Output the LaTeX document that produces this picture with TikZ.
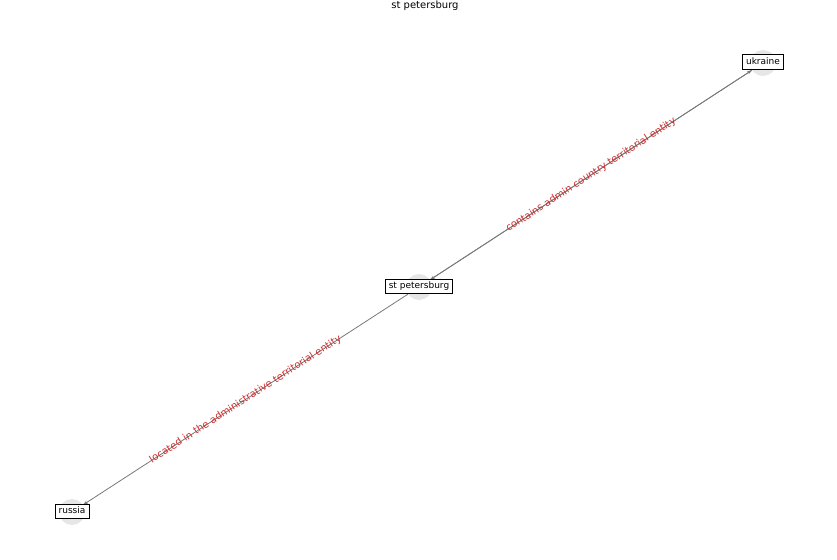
\documentclass[tikz,border=0pt]{standalone}
\usepackage{fontspec}
\setmainfont{DejaVu Sans}
\usetikzlibrary{arrows.meta}
\definecolor{edgegray}{RGB}{120,120,120}
\definecolor{labelred}{RGB}{205,45,45}
\definecolor{halo}{RGB}{230,230,230}
\tikzset{
  halonode/.style={circle, fill=halo, minimum size=26pt, inner sep=0pt},
  boxnode/.style={draw=black, fill=white, line width=0.6pt, font=\fontsize{9}{11}\selectfont, inner xsep=3.5pt, inner ysep=3pt, text height=6.6pt, text depth=1.8pt},
  conn/.style={draw=edgegray, line width=0.8pt, -{Stealth[length=5pt,width=3.5pt]}},
  elabel/.style={text=labelred, font=\fontsize{10}{12}\selectfont, sloped, inner sep=0pt}
}
\begin{document}
\begin{tikzpicture}[x=1pt,y=-1pt]
\useasboundingbox (0,0) rectangle (837,559);
\node[font=\fontsize{10}{12}\selectfont] (title) at (425,6) {st petersburg};
% halos
\node[halonode] (hu) at (763,63) {};
\node[halonode] (hs) at (419,287) {};
\node[halonode] (hr) at (72,512) {};
% edges
\draw[conn] (hs) -- (hu);
\draw[conn] (hu) -- (hs);
\draw[conn] (hs) -- (hr);
% labels
\path (hs.center) -- node[elabel] (l1) {contains admin country territorial entity} (hu.center);
\path (hr.center) -- node[elabel] (l2) {located in the administrative territorial entity} (hs.center);
% boxes
\node[boxnode] (ukraine) at (763,62) {ukraine};
\node[boxnode] (stp) at (419,286) {st petersburg};
\node[boxnode] (russia) at (72,511) {russia};
\end{tikzpicture}
\end{document}
